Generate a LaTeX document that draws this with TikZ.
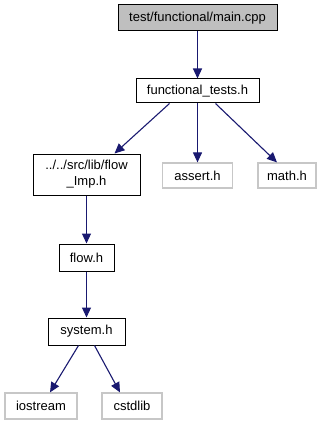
\documentclass[tikz,border=0pt]{standalone}
\usepackage{fontspec}
\setmainfont{Liberation Sans}
\usetikzlibrary{arrows.meta}

\begin{document}
\begin{tikzpicture}[x=1pt,y=-1pt,
        caja/.style={draw=black,line width=1pt,fill=white,inner sep=0pt,font=\fontsize{13}{16}\selectfont,align=center},
        ext/.style={caja,draw=gris,line width=1.2pt},
        flecha/.style={azul,line width=1.1pt,-{Triangle[length=10pt,width=9pt]}}]
        %colores
        \definecolor{azul}{HTML}{191970}
        \colorlet{gris}{black!22}
        \colorlet{relleno}{black!25}

        \useasboundingbox (0,0) rectangle (326,425);

        % archivos
        \node[caja,fill=relleno,minimum width=159pt,minimum height=26pt] (main) at (197.5,18) {test/functional/main.cpp};
        \node[caja,minimum width=123pt,minimum height=24pt] (ftests) at (197.5,91) {functional\_tests.h};
        \node[caja,minimum width=107pt,minimum height=41pt] (imp) at (86.5,174.5) {../../src/lib/flow\\\_Imp.h};
        \node[ext,minimum width=70pt,minimum height=25pt] (assert) at (197.5,175.5) {assert.h};
        \node[ext,minimum width=58pt,minimum height=25pt] (math) at (287,175.5) {math.h};
        \node[caja,minimum width=55pt,minimum height=27pt] (flow) at (86.5,257.5) {flow.h};
        \node[caja,minimum width=77pt,minimum height=27pt] (system) at (86.5,331.5) {system.h};
        \node[ext,minimum width=72pt,minimum height=26pt] (iostream) at (41,406) {iostream};
        \node[ext,minimum width=60pt,minimum height=26pt] (cstdlib) at (132,406) {cstdlib};

        % dependencias
        \draw[flecha] (main) -- (ftests);
        \draw[flecha] ([xshift=-28pt]ftests.south) -- ([xshift=28pt]imp.north);
        \draw[flecha] (ftests.south) -- (assert.north);
        \draw[flecha] ([xshift=18pt]ftests.south) -- ([xshift=-10pt]math.north);
        \draw[flecha] (imp) -- (flow);
        \draw[flecha] (flow) -- (system);
        \draw[flecha] ([xshift=-8pt]system.south) -- ([xshift=9pt]iostream.north);
        \draw[flecha] ([xshift=8pt]system.south) -- ([xshift=-12pt]cstdlib.north);
    \end{tikzpicture}
\end{document}
